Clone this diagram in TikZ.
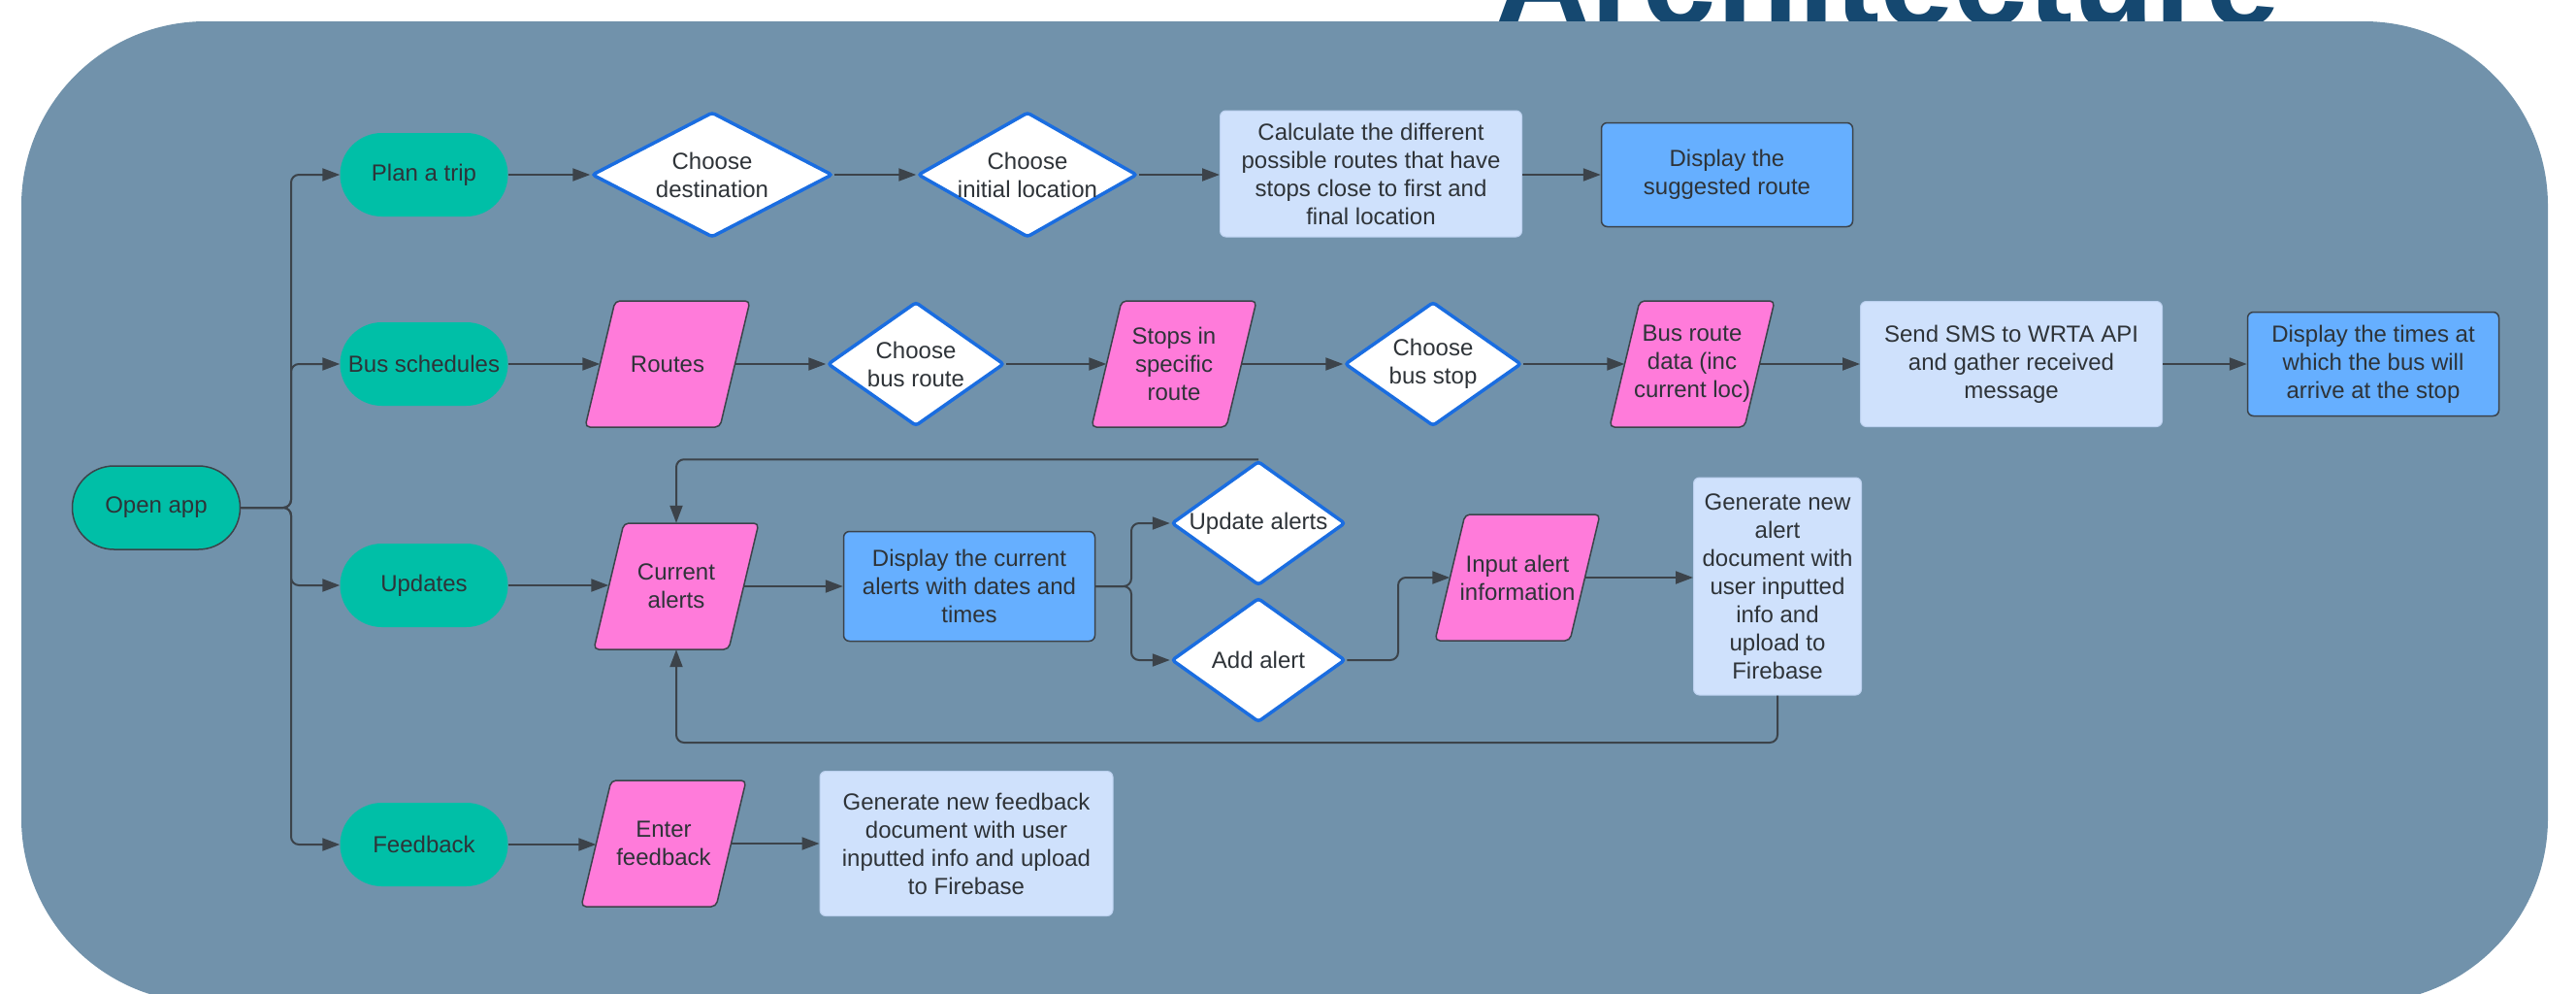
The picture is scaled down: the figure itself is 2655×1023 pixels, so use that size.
\documentclass[tikz,border=0pt]{standalone}
\usepackage{fontspec}
\setmainfont{Liberation Sans}
\usetikzlibrary{arrows.meta,shapes.geometric,calc}
\definecolor{bgc}{HTML}{7192AB}
\definecolor{teal1}{HTML}{00BFA7}
\definecolor{pink1}{HTML}{FF7BDA}
\definecolor{lblue}{HTML}{CFE1FC}
\definecolor{lbluebd}{HTML}{BBD0EE}
\definecolor{mblue}{HTML}{66AFFF}
\definecolor{dblue}{HTML}{1A6DE0}
\definecolor{linec}{HTML}{3C434A}
\definecolor{txt}{HTML}{2E3338}
\definecolor{titlec}{HTML}{154870}
\tikzset{
  base/.style={font=\fontsize{24}{29}\selectfont, text=txt, align=center, inner sep=0pt},
  term/.style={base, fill=teal1, rounded corners=43pt, minimum width=173pt, minimum height=86pt},
  dia/.style={diamond, fill=white, draw=dblue, line width=3.5pt, rounded corners=3pt, inner sep=0pt},
  lbl/.style={base},
  para/.style={fill=pink1, draw=linec, line width=1.5pt, rounded corners=5pt},
  paratext/.style={base, minimum width=139pt, minimum height=130pt},
  lbox/.style={base, fill=lblue, draw=lbluebd, line width=1pt, rounded corners=6pt},
  dbox/.style={base, fill=mblue, draw=linec, line width=1.5pt, rounded corners=6pt},
  conn/.style={draw=linec, line width=2pt, rounded corners=8pt, -{Triangle[length=18pt,width=13pt]}}
}
\newcommand\Para[4]{%
  \draw[para] (#2-85,#3+65) -- (#2+54,#3+65) -- (#2+85,#3-65) -- (#2-54,#3-65) -- cycle;
  \node[paratext] (#1) at (#2,#3) {#4};
}
\begin{document}
\begin{tikzpicture}[x=1pt,y=-1pt]
\useasboundingbox (0,0) rectangle (2655,1023);
\fill[white] (0,0) rectangle (2655,1023);
\node[anchor=base west, text=titlec, font=\fontsize{137.5}{137.5}\selectfont\bfseries, inner sep=0pt] (title) at (1540,26) {Architecture};
\fill[bgc, rounded corners=190pt] (22,22) rectangle (2626,1033);

% start / categories
\node[term, draw=linec, line width=1.5pt] (open) at (161,523) {Open app};
\node[term] (plan) at (437,180) {Plan a trip};
\node[term] (bus) at (437,375) {Bus schedules};
\node[term] (upd) at (437,603) {Updates};
\node[term] (fb) at (437,870) {Feedback};

% row 1
\node[dia, minimum width=248pt, minimum height=129pt, label={[lbl]center:{Choose\\destination}}] (d1) at (734,180) {};
\node[dia, minimum width=226pt, minimum height=129pt, label={[lbl]center:{Choose\\initial location}}] (d2) at (1059,180) {};
\node[lbox, minimum width=311pt, minimum height=130pt] (calc) at (1413,179) {Calculate the different\\possible routes that have\\stops close to first and\\final location};
\node[dbox, minimum width=259pt, minimum height=107pt] (disp1) at (1780,180) {Display the\\suggested route};

% row 2
\Para{routes}{688}{375}{Routes}
\node[dia, minimum width=182pt, minimum height=128pt, label={[lbl]center:{Choose\\bus route}}] (d3) at (944,375) {};
\Para{stops}{1210}{375}{Stops in\\specific\\route}
\node[dia, minimum width=182pt, minimum height=128pt, label={[lbl]center:{Choose\\bus stop}}] (d4) at (1477,375) {};
\Para{data}{1744}{375}{Bus route\\data (inc\\current loc)}
\node[lbox, minimum width=311pt, minimum height=129pt] (sms) at (2073,375) {Send SMS to WRTA API\\and gather received\\message};
\node[dbox, minimum width=259pt, minimum height=107pt] (disp2) at (2446,375) {Display the times at\\which the bus will\\arrive at the stop};

% row 3
\Para{cur}{697}{604}{Current\\alerts}
\node[dbox, minimum width=259pt, minimum height=113pt] (disp3) at (999,604) {Display the current\\alerts with dates and\\times};
\node[dia, minimum width=179pt, minimum height=128pt, label={[lbl]center:{Update alerts}}] (d5) at (1297,539) {};
\node[dia, minimum width=179pt, minimum height=128pt, label={[lbl]center:{Add alert}}] (d6) at (1297,680) {};
\Para{input}{1564}{595}{Input alert\\information}
\node[lbox, minimum width=173pt, minimum height=224pt] (gen1) at (1832,604) {Generate new\\alert\\document with\\user inputted\\info and\\upload to\\Firebase};

% row 4
\Para{enter}{684}{869}{Enter\\feedback}
\node[lbox, minimum width=302pt, minimum height=149pt] (gen2) at (996,869) {Generate new feedback\\document with user\\inputted info and upload\\to Firebase};

% connectors
\coordinate (trunk) at (300,523);
\draw[conn] (open.east) -- (trunk) |- (plan.west);
\draw[conn] (open.east) -- (trunk) |- (bus.west);
\draw[conn] (open.east) -- (trunk) |- (upd.west);
\draw[conn] (open.east) -- (trunk) |- (fb.west);

\draw[conn] (plan.east) -- (d1.west);
\draw[conn] (d1.east) -- (d2.west);
\draw[conn] (d2.east) -- (calc.west |- d2.east);
\draw[conn] (calc.east |- disp1.west) -- (disp1.west);

\draw[conn] (bus.east) -- (routes.west);
\draw[conn] (routes.east) -- (d3.west);
\draw[conn] (d3.east) -- (stops.west);
\draw[conn] (stops.east) -- (d4.west);
\draw[conn] (d4.east) -- (data.west);
\draw[conn] (data.east) -- (sms.west);
\draw[conn] (sms.east) -- (disp2.west);

\draw[conn] (upd.east) -- (cur.west |- upd.east);
\draw[conn] (cur.east) -- (disp3.west);
\coordinate (split) at (1166,604);
\draw[conn] (disp3.east) -- (split) |- (d5.west);
\draw[conn] (disp3.east) -- (split) |- (d6.west);
\coordinate (join) at (1441,680);
\draw[conn] (d6.east) -- (join) |- (input.west);
\draw[conn] (input.east) -- (gen1.west |- input.east);
\coordinate (loopb) at (1832,765);
\draw[conn] (gen1.south) -- (loopb) -| (cur.south);
\draw[conn] (d5.north) -| (cur.north);

\draw[conn] (fb.east) -- (enter.west |- fb.east);
\draw[conn] (enter.east) -- (gen2.west);
\end{tikzpicture}
\end{document}
